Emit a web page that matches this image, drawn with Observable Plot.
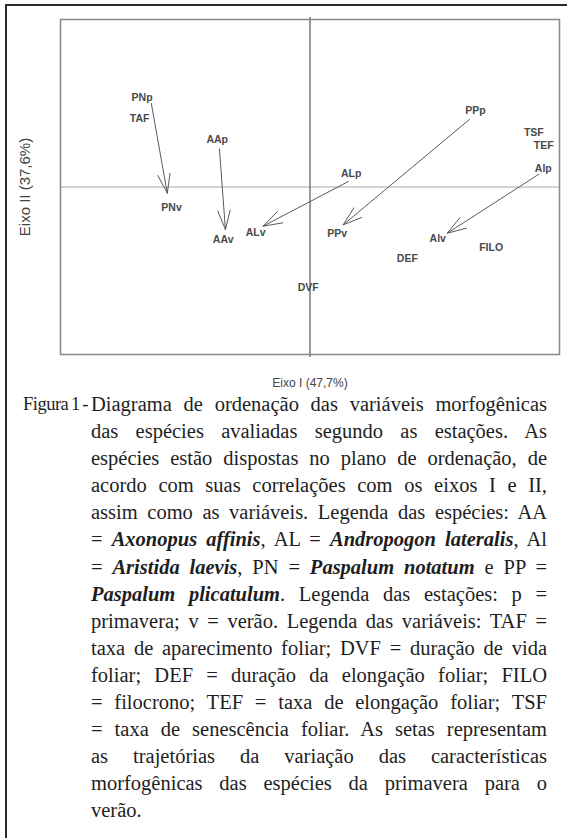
<!DOCTYPE html>
<html><head><meta charset="utf-8">
<script src="https://cdn.jsdelivr.net/npm/d3@7"></script>
<script src="https://cdn.jsdelivr.net/npm/@observablehq/plot@0.6"></script>
<style>
html,body{margin:0;padding:0;background:#fff;}
body{width:567px;height:838px;position:relative;overflow:hidden;}
#outer{position:absolute;left:5px;top:4px;width:640px;height:900px;border:2px solid #2a2a2a;box-sizing:border-box;}
#chart{position:absolute;left:0;top:0;}
#caption{position:absolute;left:23px;top:391px;width:524px;font-family:"Liberation Serif","Times New Roman",Times,"DejaVu Serif",serif;font-size:20.5px;line-height:27.1px;color:#1e1e1e;display:flex;}
#caption .lead{width:68px;white-space:nowrap;font-size:18.5px;word-spacing:-1.5px;letter-spacing:-0.5px;}
#caption .body{width:456px;}
#caption .ln{text-align:justify;text-align-last:justify;}
#caption .ln.last{text-align-last:left;}
</style></head><body>
<div id="outer"></div>
<div id="chart"></div>
<div id="caption">
  <div class="lead">Figura 1 -</div>
  <div class="body">
    <div class="ln">Diagrama de ordenação das variáveis morfogênicas</div>
    <div class="ln">das espécies avaliadas segundo as estações. As</div>
    <div class="ln">espécies estão dispostas no plano de ordenação, de</div>
    <div class="ln">acordo com suas correlações com os eixos I e II,</div>
    <div class="ln">assim como as variáveis. Legenda das espécies: AA</div>
    <div class="ln">= <b><i>Axonopus affinis</i></b>, AL = <b><i>Andropogon lateralis</i></b>, Al</div>
    <div class="ln">= <b><i>Aristida laevis</i></b>, PN = <b><i>Paspalum notatum</i></b> e PP =</div>
    <div class="ln"><b><i>Paspalum plicatulum</i></b>. Legenda das estações: p =</div>
    <div class="ln">primavera; v = verão. Legenda das variáveis: TAF =</div>
    <div class="ln">taxa de aparecimento foliar; DVF = duração de vida</div>
    <div class="ln">foliar; DEF = duração da elongação foliar; FILO</div>
    <div class="ln">= filocrono; TEF = taxa de elongação foliar; TSF</div>
    <div class="ln">= taxa de senescência foliar. As setas representam</div>
    <div class="ln">as trajetórias da variação das características</div>
    <div class="ln">morfogênicas das espécies da primavera para o</div>
    <div class="ln last">verão.</div>
  </div>
</div>
<script>
// Ordination scores (Eixo I, Eixo II) of labelled points
const labelNames = ["PNp","TAF","AAp","PNv","AAv","ALv","ALp","PPp","PPv","TSF","TEF","Alp","Alv","FILO","DEF","DVF"];
const labelX = [-0.673,-0.683,-0.372,-0.555,-0.348,-0.218,0.165,0.663,0.109,0.897,0.937,0.935,0.512,0.726,0.390,-0.007];
const labelY = [0.536,0.411,0.282,-0.121,-0.315,-0.273,0.079,0.457,-0.279,0.324,0.248,0.112,-0.306,-0.363,-0.429,-0.602];
// Trajectories spring (p) -> summer (v)
const arrowSpecies = ["PN","AA","AL","PP","Al"];
const arrowX1 = [-0.636,-0.363,0.154,0.639,0.917];
const arrowY1 = [0.499,0.228,0.033,0.403,0.076];
const arrowX2 = [-0.572,-0.339,-0.188,0.133,0.550];
const arrowY2 = [-0.037,-0.254,-0.234,-0.226,-0.276];
const axisDomain = [-1, 1];
const xAxisLabel = "Eixo I (47,7%)";
const yAxisLabel = "Eixo II (37,6%)";

const arrows = arrowSpecies.map((s, i) => ({s, x1: arrowX1[i], y1: arrowY1[i], x2: arrowX2[i], y2: arrowY2[i]}));
const pts = labelNames.map((n, i) => ({n, x: labelX[i], y: labelY[i]}));

const chart = Plot.plot({
  width: 567,
  height: 395,
  marginLeft: 60,
  marginRight: 8,
  marginTop: 19,
  marginBottom: 41,
  x: {domain: axisDomain, axis: null},
  y: {domain: axisDomain, axis: null},
  style: {background: "transparent", fontFamily: "'Liberation Sans', Arial, sans-serif", overflow: "visible"},
  marks: [
    Plot.ruleY([0], {stroke: "#a8a8a8", strokeWidth: 1.2}),
    Plot.ruleX([0], {stroke: "#6e6e6e", strokeWidth: 1.4, insetTop: -2, insetBottom: -3}),
    Plot.frame({stroke: "#8c8c8c", strokeWidth: 1.6}),
    Plot.arrow(arrows, {x1: "x1", y1: "y1", x2: "x2", y2: "y2", stroke: "#5a5a5a", strokeWidth: 1, headLength: 30, headAngle: 36}),
    Plot.text(pts, {x: "x", y: "y", text: "n", fontSize: 10.5, fontWeight: "bold", fill: "#4a4a4a"}),
    Plot.text([xAxisLabel], {frameAnchor: "bottom", dy: 32, text: d => d, fontSize: 12, fill: "#444"}),
    Plot.text([yAxisLabel], {frameAnchor: "left", textAnchor: "middle", dx: -35, rotate: -90, text: d => d, fontSize: 15, fill: "#444"})
  ]
});
document.getElementById("chart").appendChild(chart);
</script>
</body></html>
